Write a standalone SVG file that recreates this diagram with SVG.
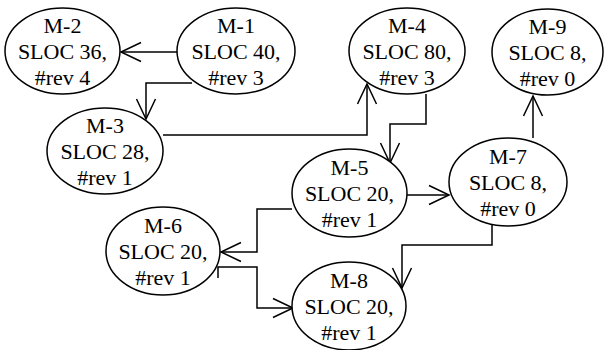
<svg xmlns="http://www.w3.org/2000/svg" width="605" height="350" viewBox="0 0 605 350">
<style>
.n ellipse{fill:#fff;stroke:#000;stroke-width:1.5}
.n text{font-family:'Liberation Serif','Times New Roman',serif;font-size:22px;fill:#000;text-anchor:middle}
.e path{fill:none;stroke:#000;stroke-width:1.5;marker-end:url(#a)}
</style>
<defs>
<marker id="a" viewBox="-22 -11 24 22" markerWidth="24" markerHeight="22" refX="0" refY="0" orient="auto" markerUnits="userSpaceOnUse">
<path d="M-20,-9.5 L0,0 L-20,9.5" fill="none" stroke="#000" stroke-width="1.5"/>
</marker>
</defs>
<rect width="605" height="350" fill="#fff"/>
<g class="e" id="connectors">
<path d="M177,52 L121,52"/>
<path d="M192,83 L146,83 L146,119"/>
<path d="M163,135 L367,135 L367,84"/>
<path d="M426,94 L426,124 L390,124 L390,163"/>
<path d="M407,195 L449,195"/>
<path d="M533,138 L533,96"/>
<path d="M492,224 L492,245 L402,245 L402,288"/>
<path d="M292,209 L257,209 L257,252 L221,252"/>
<path d="M218,278 L218,267 L257,267 L257,308 L293,308"/>
</g>
<g class="n" id="M-2"><ellipse cx="62.5" cy="51" rx="57.5" ry="43"/><text x="62.5" y="33">M-2</text><text x="62.5" y="59">SLOC 36,</text><text x="62.5" y="85">#rev 4</text></g>
<g class="n" id="M-1"><ellipse cx="236" cy="51" rx="59" ry="43"/><text x="236" y="33">M-1</text><text x="236" y="59">SLOC 40,</text><text x="236" y="85">#rev 3</text></g>
<g class="n" id="M-3"><ellipse cx="105" cy="151" rx="58" ry="43"/><text x="105" y="133">M-3</text><text x="105" y="159">SLOC 28,</text><text x="105" y="185">#rev 1</text></g>
<g class="n" id="M-4"><ellipse cx="407" cy="51" rx="58" ry="43"/><text x="407" y="33">M-4</text><text x="407" y="59">SLOC 80,</text><text x="407" y="85">#rev 3</text></g>
<g class="n" id="M-9"><ellipse cx="547.5" cy="52" rx="55.5" ry="43"/><text x="547.5" y="34">M-9</text><text x="547.5" y="60">SLOC 8,</text><text x="547.5" y="86">#rev 0</text></g>
<g class="n" id="M-5"><ellipse cx="349.5" cy="193" rx="57.5" ry="44"/><text x="349.5" y="175">M-5</text><text x="349.5" y="201">SLOC 20,</text><text x="349.5" y="227">#rev 1</text></g>
<g class="n" id="M-7"><ellipse cx="508" cy="182" rx="59" ry="44"/><text x="508" y="164">M-7</text><text x="508" y="190">SLOC 8,</text><text x="508" y="216">#rev 0</text></g>
<g class="n" id="M-6"><ellipse cx="163" cy="251" rx="57" ry="44"/><text x="163" y="233">M-6</text><text x="163" y="259">SLOC 20,</text><text x="163" y="285">#rev 1</text></g>
<g class="n" id="M-8"><ellipse cx="349" cy="306" rx="57" ry="44"/><text x="349" y="288">M-8</text><text x="349" y="314">SLOC 20,</text><text x="349" y="340">#rev 1</text></g>
</svg>
